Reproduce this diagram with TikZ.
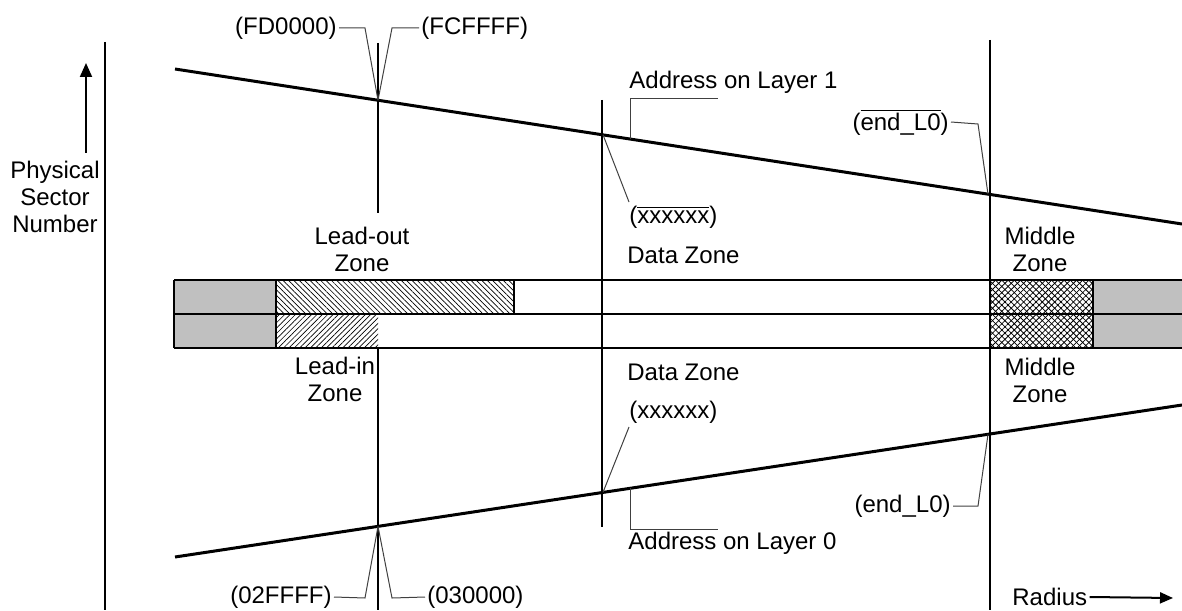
\documentclass[tikz,border=0pt]{standalone}
\usepackage{fontspec}
\setmainfont{Liberation Sans}
\usetikzlibrary{patterns.meta, arrows.meta}
\definecolor{zonegray}{RGB}{192,192,192}
\newcommand{\olbar}[1]{$\overline{\hbox{#1}}$}
\tikzset{
    every node/.style={ % all texts
        font=\fontsize{12}{13.5}\selectfont,
        inner sep=1pt
    },
    layerline/.style={line width=1.5pt}, % address lines of the layers
    zoneline/.style={line width=0.6pt},   % zone borders
    leader/.style={line width=0.5pt, black!75}, % label leaders
    axisarrow/.style={line width=1pt, -{Triangle[length=7pt,width=6pt]}},
    leadout/.style={pattern={Lines[angle=-45,distance=1.9pt,line width=0.35pt]}},
    leadin/.style={pattern={Lines[angle=45,distance=1.9pt,line width=0.35pt]}}
}

\begin{document}
\begin{tikzpicture}[x=0.5pt, y=-0.5pt]
        \useasboundingbox (0,0) rectangle (1182,610);
        % achse links
        \draw[zoneline] (105,42) -- (105,610);
        \node[align=center]                     (psn)       at (55,197) {Physical\\Sector\\Number};
        \coordinate (psntip) at (86,63);
        \draw[axisarrow] (psn.north -| psntip) ++(0,-6) -- (psntip);

        % band
        \fill[zonegray] (174,280) rectangle (276,348);
        \fill[zonegray] (1093,280) rectangle (1182,348);
        \fill[leadout]  (276,280) rectangle (514,314);
        \fill[leadin]   (276,314) rectangle (378,348);
        \fill[pattern={Lines[angle=45,distance=2.2pt,line width=0.4pt]}]  (991,280) rectangle (1093,348);
        \fill[pattern={Lines[angle=-45,distance=2.2pt,line width=0.4pt]}] (991,280) rectangle (1093,348);
        \draw[zoneline]
                (174,280) -- (1182,280)
                (174,314) -- (1182,314)
                (174,348) -- (1182,348)
                (174,280) -- (174,348)
                (276,280) -- (276,348)
                (514,280) -- (514,314)
                (1093,280) -- (1093,348);

        % senkrechte linien
        \draw[zoneline] (378,43) -- (378,213);
        \draw[zoneline] (378,348) -- (378,610);
        \draw[zoneline] (602,100) -- (602,527);
        \draw[zoneline] (990,40) -- (990,610);

        % layer 1 (oben), layer 0 (unten)
        \coordinate (l1a) at (175,69);   \coordinate (l1b) at (1182,224);
        \coordinate (l0a) at (175,557);  \coordinate (l0b) at (1182,405);
        \draw[layerline] (l1a) -- (l1b);
        \draw[layerline] (l0a) -- (l0b);
        \coordinate (l1out)  at (378,100.2);
        \coordinate (l1data) at (603,134.8);
        \coordinate (l1addr) at (630,139);
        \coordinate (l1mid)  at (988,194.2);
        \coordinate (l0in)   at (378,526.4);
        \coordinate (l0data) at (603,492.3);
        \coordinate (l0addr) at (630,488.3);
        \coordinate (l0mid)  at (988,434.3);

        % texte oben
        \node[anchor=east]                      (fd)        at (339,28)  {(FD0000)};
        \node[anchor=west]                      (fc)        at (419,28)  {(FCFFFF)};
        \node[align=center]                     (lozone)    at (362,249) {Lead-out\\Zone};
        \node[anchor=west]                      (addr1)     at (627,82)  {Address on Layer 1};
        \node[anchor=west]                      (xx1)       at (627,217) {(\olbar{xxxxxx})};
        \node[anchor=west]                      (dz1)       at (625,255) {Data Zone};
        \node[anchor=east]                      (end1)      at (951,122) {(\olbar{end\_L0})};
        \node[align=center]                     (mz1)       at (1040,249) {Middle\\Zone};
        % texte unten
        \node[align=center]                     (lizone)    at (335,379) {Lead-in\\Zone};
        \node[anchor=west]                      (dz0)       at (625,372) {Data Zone};
        \node[align=center]                     (mz0)       at (1040,380) {Middle\\Zone};
        \node[anchor=west]                      (xx0)       at (627,412) {(xxxxxx)};
        \node[anchor=west]                      (addr0)     at (626,543) {Address on Layer 0};
        \node[anchor=east]                      (f2)        at (334,597) {(02FFFF)};
        \node[anchor=west]                      (f3)        at (425,597) {(030000)};
        \node[anchor=east]                      (end0)      at (953,506) {(end\_L0)};
        \node[anchor=west]                      (rad)       at (1010,597) {Radius};

        % hinweislinien
        \draw[leader] (fd.east) -- (365,28) -- (l1out);
        \draw[leader] (fc.west) -- (392,28) -- (l1out);
        \draw[leader] (l1addr) -- (630,99) -- (718,99);
        \draw[leader] (l1data) -- (629,202);
        \draw[leader] (end1.east) -- (978,124) -- (l1mid);
        \draw[leader] (629,427) -- (l0data);
        \draw[leader] (l0addr) -- (630,529) -- (718,529);
        \draw[leader] (f2.east) -- (365,598) -- (l0in);
        \draw[leader] (f3.west) -- (392,598) -- (l0in);
        \draw[leader] (end0.east) -- (978,506) -- (l0mid);
        \draw[line width=1pt, -{Triangle[length=6.5pt,width=5.5pt]}] (rad.east) -- (1173,598);
\end{tikzpicture}
\end{document}
